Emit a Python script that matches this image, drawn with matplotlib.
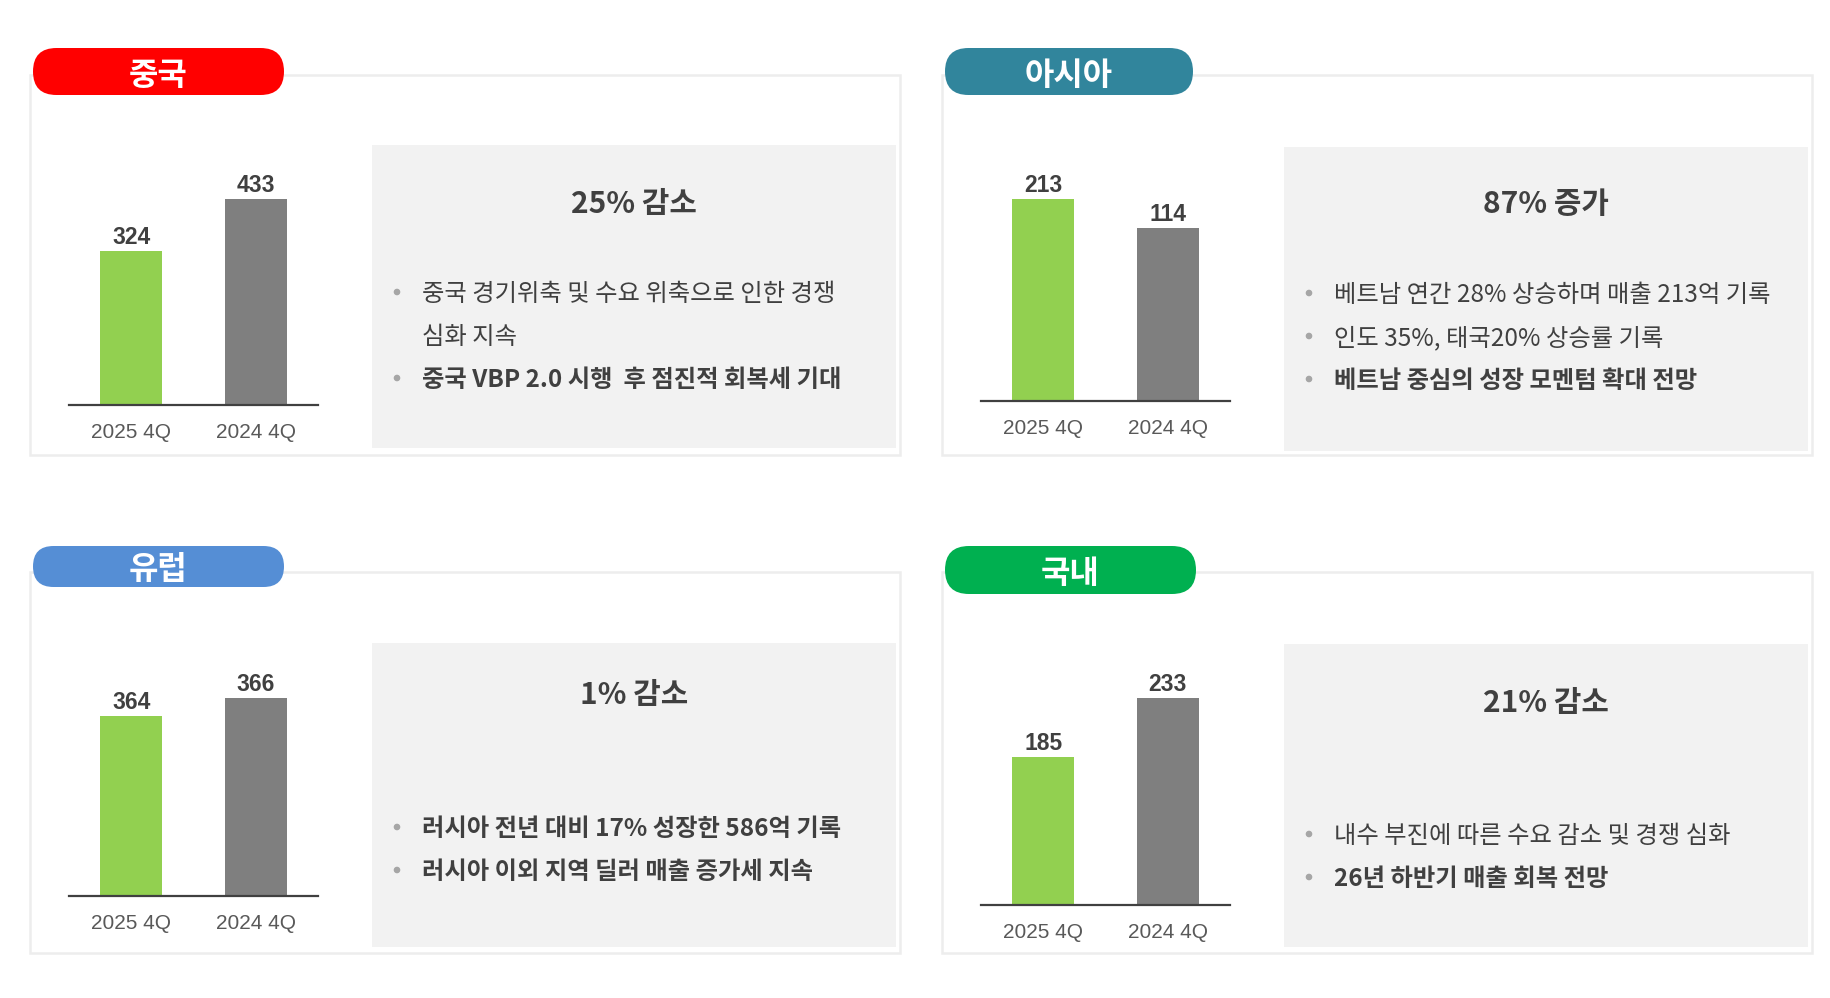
import numpy as np
import matplotlib.pyplot as plt
from matplotlib.patches import FancyBboxPatch, Rectangle, Circle

plt.rcParams['font.family'] = ['Noto Sans CJK KR', 'DejaVu Sans']

W, H = 1831, 998

# data
regions = ['중국', '아시아', '유럽', '국내']
region_colors = ['#FF0000', '#31859C', '#558ED5', '#00B050']
periods = ['2025 4Q', '2024 4Q']
sales_2025q4 = [324, 213, 364, 185]
sales_2024q4 = [433, 114, 366, 233]
headlines = ['25% 감소', '87% 증가', '1% 감소', '21% 감소']
bullet_texts = [
    ['중국 경기위축 및 수요 위축으로 인한 경쟁\n심화 지속', '중국 VBP 2.0 시행  후 점진적 회복세 기대'],
    ['베트남 연간 28% 상승하며 매출 213억 기록', '인도 35%, 태국20% 상승률 기록', '베트남 중심의 성장 모멘텀 확대 전망'],
    ['러시아 전년 대비 17% 성장한 586억 기록', '러시아 이외 지역 딜러 매출 증가세 지속'],
    ['내수 부진에 따른 수요 감소 및 경쟁 심화', '26년 하반기 매출 회복 전망'],
]
bullet_bold = [[False, True], [False, False, True], [True, True], [False, True]]

bar_colors = ['#92D050', '#7F7F7F']
dark = '#404040'

# layout in pixels (x0, y0, x1, y1), y measured from top
# floor = value where the bars start (the original charts use a cut axis)
layout = [
    dict(box=(30, 75, 900, 455), pill=(33, 48, 284, 95), gray=(372, 145, 896, 448),
         bars=(69, 318, 405, 199), floor=0, title_y=204, bullet_y=[294, 380]),
    dict(box=(942, 75, 1812, 455), pill=(945, 48, 1193, 95), gray=(1284, 147, 1808, 451),
         bars=(981, 1230, 401, 199), floor=-476, title_y=204, bullet_y=[295, 338, 381]),
    dict(box=(30, 572, 900, 953), pill=(33, 546, 284, 587), gray=(372, 643, 896, 947),
         bars=(69, 318, 896, 698), floor=344, title_y=695, bullet_y=[829, 872]),
    dict(box=(942, 572, 1812, 953), pill=(945, 546, 1196, 594), gray=(1284, 644, 1808, 947),
         bars=(981, 1230, 905, 698), floor=65, title_y=703, bullet_y=[836, 879]),
]
line_gap = 43

fig = plt.figure(figsize=(W / 100, H / 100), dpi=100)
bg = fig.add_axes([0, 0, 1, 1])
bg.set_xlim(0, W)
bg.set_ylim(H, 0)
bg.axis('off')

for i, lay in enumerate(layout):
    x0, y0, x1, y1 = lay['box']
    bg.add_patch(Rectangle((x0, y0), x1 - x0, y1 - y0, fill=False, ec='#EDEDED', lw=1.8))

    gx0, gy0, gx1, gy1 = lay['gray']
    bg.add_patch(Rectangle((gx0, gy0), gx1 - gx0, gy1 - gy0, fc='#F2F2F2', ec='none'))

    px0, py0, px1, py1 = lay['pill']
    r = (py1 - py0) / 2
    bg.add_patch(FancyBboxPatch((px0, py0), px1 - px0, py1 - py0,
                                boxstyle=f'round,pad=0,rounding_size={r}',
                                fc=region_colors[i], ec='none'))
    bg.text((px0 + px1) / 2, (py0 + py1) / 2 + 4, regions[i], color='white', fontsize=23,
            fontweight='bold', ha='center', va='center')

    # headline
    bg.text((gx0 + gx1) / 2, lay['title_y'], headlines[i], color=dark, fontsize=21.5,
            fontweight='bold', ha='center', va='center')

    # bullets
    for j, txt in enumerate(bullet_texts[i]):
        by = lay['bullet_y'][j]
        bg.add_patch(Circle((gx0 + 25, by - 2), 2.6, color='#A6A6A6'))
        for k, line in enumerate(txt.split('\n')):
            bg.text(gx0 + 50, by + k * line_gap, line, color=dark, fontsize=17.5,
                    fontweight='bold' if bullet_bold[i][j] else 'normal',
                    ha='left', va='center')

    # bar chart
    bx0, bx1, base, top = lay['bars']
    ax = fig.add_axes([bx0 / W, 1 - base / H, (bx1 - bx0) / W, (base - top) / H])
    ax.patch.set_alpha(0)
    vals = np.array([sales_2025q4[i], sales_2024q4[i]])
    fl = lay['floor']
    ax.bar([0, 1], vals - fl, bottom=fl, width=0.5, color=bar_colors)
    ax.set_xlim(-0.5, 1.5)
    ax.set_ylim(fl, vals.max())
    for k, v in enumerate(vals):
        ax.annotate(str(v), (k, v), xytext=(0, 1.5), textcoords='offset points',
                    ha='center', va='bottom', fontsize=16.5, fontweight='bold',
                    color=dark, family='Liberation Sans', annotation_clip=False)
    for s in ['top', 'left', 'right']:
        ax.spines[s].set_visible(False)
    ax.spines['bottom'].set_color(dark)
    ax.spines['bottom'].set_linewidth(1.6)
    ax.set_yticks([])
    ax.set_xticks([0, 1])
    ax.set_xticklabels(periods, fontsize=15, color='#595959', family='Liberation Sans')
    ax.tick_params(axis='x', length=0, pad=13)

fig.savefig('out.png', dpi=100)
